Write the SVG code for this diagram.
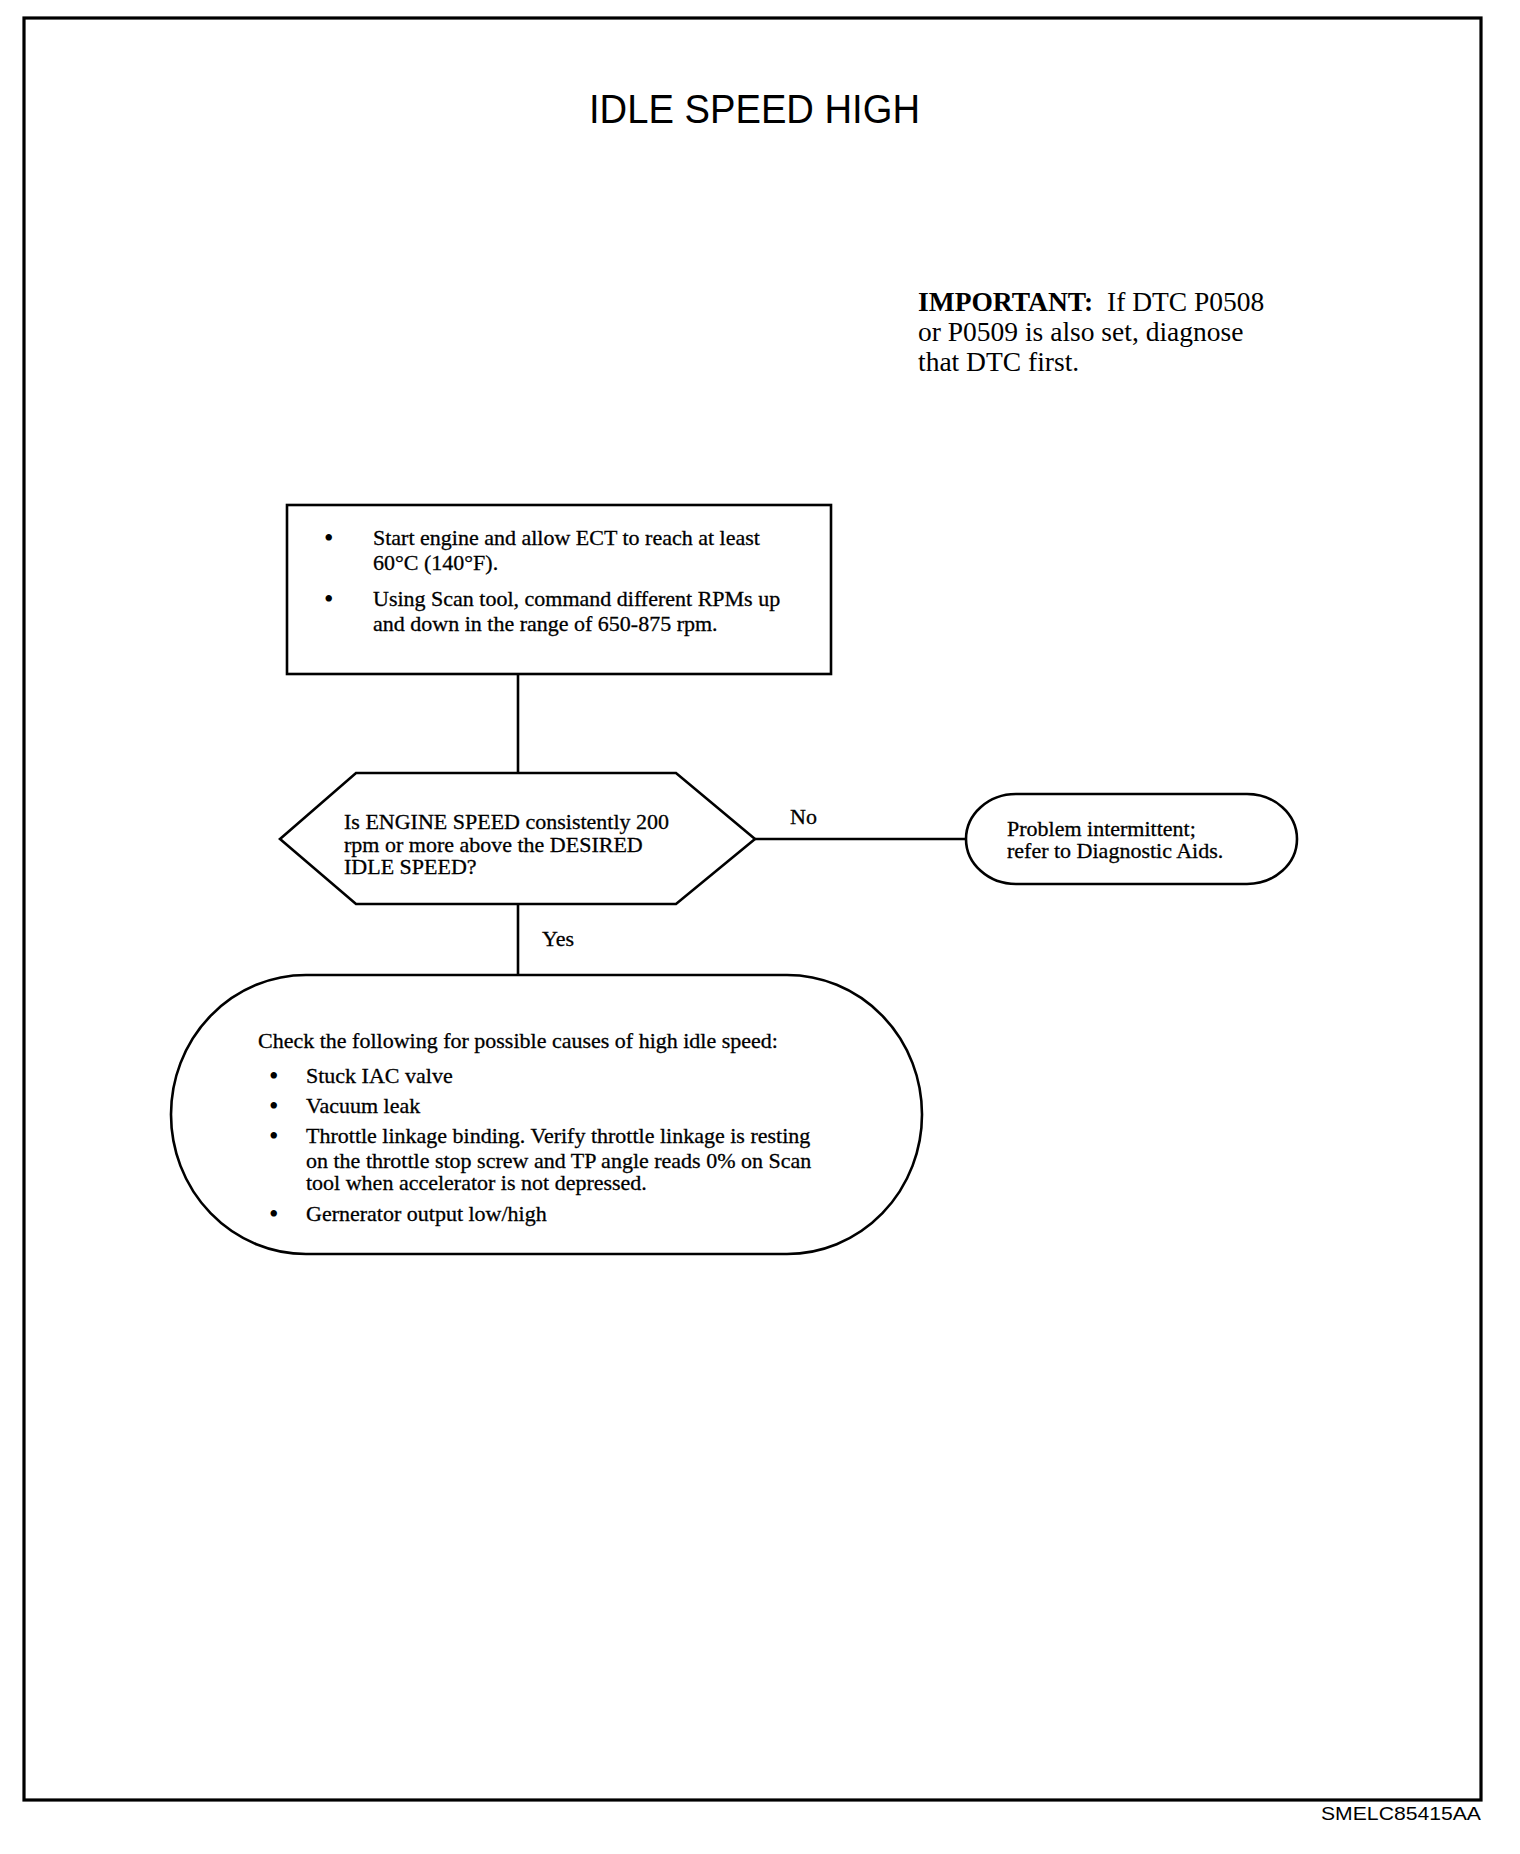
<svg xmlns="http://www.w3.org/2000/svg" width="1520" height="1854" viewBox="0 0 1520 1854">
<style>
.shape{fill:none;stroke:#000;stroke-width:2.6}
.conn{fill:none;stroke:#000;stroke-width:2.6}
.t{font-family:"Liberation Serif","Times New Roman",serif;font-size:22px;fill:#000;stroke:#000;stroke-width:0.3}
.b{font-family:"Liberation Serif","Times New Roman",serif;font-size:27px;fill:#000}
.imp{font-family:"Liberation Serif","Times New Roman",serif;font-size:27.5px;fill:#000}
.sans{font-family:"Liberation Sans",Arial,sans-serif;fill:#000}
</style>
<rect x="0" y="0" width="1520" height="1854" fill="#fff"/>
<rect x="24" y="18" width="1457" height="1782" fill="none" stroke="#000" stroke-width="3.2"/>
<text class="sans" x="589" y="123" font-size="40" textLength="331" lengthAdjust="spacingAndGlyphs">IDLE SPEED HIGH</text>
<g id="note">
<text class="imp" x="918" y="311" xml:space="preserve"><tspan font-weight="bold">IMPORTANT:</tspan>  If DTC P0508</text>
<text class="imp" x="918" y="341">or P0509 is also set, diagnose</text>
<text class="imp" x="918" y="371">that DTC first.</text>
</g>
<g id="connectors">
<line class="conn" x1="518" y1="674" x2="518" y2="773"/>
<line class="conn" x1="755" y1="839" x2="966" y2="839"/>
<line class="conn" x1="518" y1="904" x2="518" y2="975"/>
<text class="t" x="790" y="824">No</text>
<text class="t" x="542" y="946">Yes</text>
</g>
<g id="start">
<rect class="shape" x="287" y="505" width="544" height="169"/>
<text class="b" x="324" y="547">•</text>
<text class="t" x="373" y="545">Start engine and allow ECT to reach at least</text>
<text class="t" x="373" y="570">60°C (140°F).</text>
<text class="b" x="324" y="608">•</text>
<text class="t" x="373" y="606">Using Scan tool, command different RPMs up</text>
<text class="t" x="373" y="631">and down in the range of 650-875 rpm.</text>
</g>
<g id="decision">
<polygon class="shape" points="356,773 676,773 755,839 676,904 356,904 280,839"/>
<text class="t" x="344" y="829">Is ENGINE SPEED consistently 200</text>
<text class="t" x="344" y="852">rpm or more above the DESIRED</text>
<text class="t" x="344" y="874">IDLE SPEED?</text>
</g>
<g id="intermittent">
<path class="shape" d="M1016 794 H1247 A50 45 0 0 1 1247 884 H1016 A50 45 0 0 1 1016 794 Z"/>
<text class="t" x="1007" y="836">Problem intermittent;</text>
<text class="t" x="1007" y="858">refer to Diagnostic Aids.</text>
</g>
<g id="causes">
<path class="shape" d="M306 975 H787 A135 139.5 0 0 1 787 1254 H306 A135 139.5 0 0 1 306 975 Z"/>
<text class="t" x="258" y="1048">Check the following for possible causes of high idle speed:</text>
<text class="b" x="269" y="1085">•</text>
<text class="t" x="306" y="1083">Stuck IAC valve</text>
<text class="b" x="269" y="1115">•</text>
<text class="t" x="306" y="1113">Vacuum leak</text>
<text class="b" x="269" y="1145">•</text>
<text class="t" x="306" y="1143">Throttle linkage binding. Verify throttle linkage is resting</text>
<text class="t" x="306" y="1168">on the throttle stop screw and TP angle reads 0% on Scan</text>
<text class="t" x="306" y="1190">tool when accelerator is not depressed.</text>
<text class="b" x="269" y="1223">•</text>
<text class="t" x="306" y="1221">Gernerator output low/high</text>
</g>
<text class="sans" x="1321" y="1820" font-size="19" textLength="160" lengthAdjust="spacingAndGlyphs">SMELC85415AA</text>
</svg>
